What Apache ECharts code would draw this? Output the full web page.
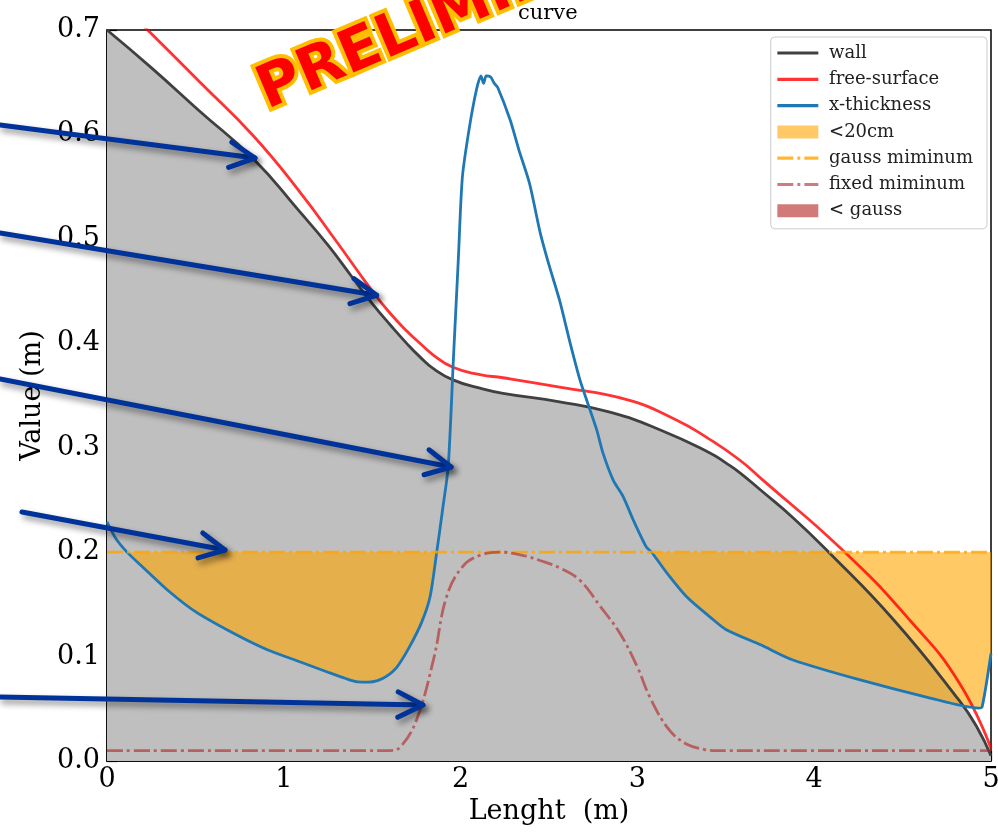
<!DOCTYPE html>
<html lang="en">
<head>
<meta charset="UTF-8">
<title>curve</title>
<style>
  html, body { margin: 0; padding: 0; background: #fff; }
  #chart { width: 998px; height: 835px; }
</style>
</head>
<body>
<div id="chart"></div>
<script src="https://cdn.jsdelivr.net/npm/echarts@6/dist/echarts.min.js"></script>
<script>
// wall
var wallX = [0, 0.25, 0.526, 0.826, 1.09, 1.25, 1.39, 1.505, 1.6, 1.7, 1.77, 1.844, 1.957, 2.11, 2.24, 2.56, 2.845, 3.13, 3.41, 3.5, 3.58, 3.7, 3.88, 4.07, 4.45, 4.82, 4.92, 5.0];
var wallY = [0.700, 0.664, 0.622, 0.577, 0.526, 0.494, 0.4625, 0.437, 0.418, 0.399, 0.387, 0.376, 0.365, 0.357, 0.352, 0.344, 0.334, 0.317, 0.295, 0.2855, 0.276, 0.259, 0.233, 0.202, 0.135, 0.058, 0.0326, 0.005];
// free-surface
var freeX = [0, 0.23, 0.526, 0.826, 1.09, 1.3, 1.505, 1.6, 1.7, 1.77, 1.844, 1.957, 2.11, 2.24, 2.56, 2.94, 3.22, 3.4, 3.58, 3.71, 4.16, 4.54, 4.82, 5.0];
var freeY = [0.739, 0.700, 0.650, 0.599, 0.545, 0.497, 0.449, 0.429, 0.411, 0.400, 0.389, 0.377, 0.370, 0.367, 0.358, 0.346, 0.3266, 0.309, 0.288, 0.269, 0.202, 0.135, 0.075, 0.012];
// x-thickness
var thickX = [0, 0.05, 0.113, 0.2, 0.34, 0.5, 0.713, 0.9, 1.09, 1.25, 1.35, 1.42, 1.48, 1.53, 1.58, 1.64, 1.71, 1.78, 1.827, 1.865, 1.90, 1.93, 1.959, 1.987, 2.01, 2.05, 2.09, 2.115, 2.13, 2.145, 2.17, 2.19, 2.21, 2.28, 2.33, 2.39, 2.45, 2.50, 2.56, 2.62, 2.675, 2.713, 2.77, 2.805, 2.863, 2.92, 2.976, 3.05, 3.08, 3.167, 3.28, 3.41, 3.5, 3.7, 3.88, 4.26, 4.64, 4.93, 4.95, 5.0];
var thickY = [0.229, 0.213, 0.200, 0.186, 0.164, 0.143, 0.1225, 0.107, 0.095, 0.085, 0.079, 0.0757, 0.0755, 0.077, 0.081, 0.090, 0.109, 0.133, 0.157, 0.200, 0.243, 0.282, 0.384, 0.480, 0.559, 0.607, 0.643, 0.656, 0.649, 0.656, 0.655, 0.649, 0.645, 0.614, 0.585, 0.553, 0.506, 0.475, 0.441, 0.400, 0.365, 0.3457, 0.317, 0.295, 0.269, 0.253, 0.231, 0.205, 0.200, 0.180, 0.157, 0.138, 0.126, 0.111, 0.0967, 0.0776, 0.061, 0.0507, 0.052, 0.103];
// gauss miminum
var gaussX = [0, 5];
var gaussY = [0.2, 0.2];
// fixed miminum
var fixedX = [0, 1.6, 1.66, 1.75, 1.85, 1.92, 2.01, 2.11, 2.22, 2.35, 2.45, 2.56, 2.675, 2.79, 2.9, 3.0, 3.07, 3.18, 3.28, 3.38, 3.45, 5.0];
var fixedY = [0.01, 0.01, 0.0135, 0.039, 0.0995, 0.157, 0.186, 0.197, 0.200, 0.197, 0.192, 0.185, 0.173, 0.148, 0.1225, 0.090, 0.0613, 0.0297, 0.016, 0.011, 0.010, 0.010];

// annotation arrows (data coords, tails sit left of the axis)
var arrowFrom = [[-0.605, 0.609], [-0.605, 0.5056], [-0.605, 0.3658], [-0.481, 0.2384], [-0.605, 0.0613]];
var arrowTo = [[0.837, 0.5774], [1.525, 0.446], [1.946, 0.2815], [0.667, 0.202], [1.787, 0.0536]];

var gaussLevel = 0.2;

function pairs(xs, ys) {
    return xs.map(function (x, i) { return [x, ys[i]]; });
}
// part of x-thickness under the gauss level
var thinY = thickY.map(function (v) { return Math.min(v, gaussLevel); });

var serif = 'DejaVu Serif';
var dashDot = [16, 4, 3, 4];
var noDot = { opacity: 0 };

var chart = echarts.init(document.getElementById('chart'));
var option = {
    animation: false,
    title: {
        text: 'curve',
        left: 518,
        top: 3,
        padding: 0,
        textStyle: { fontFamily: serif, fontSize: 21, fontWeight: 'normal', color: '#000' }
    },
    legend: {
        orient: 'vertical',
        right: 11,
        top: 37,
        padding: [7, 14, 9, 5],
        itemWidth: 41,
        itemHeight: 13,
        itemGap: 8.3,
        selectedMode: false,
        backgroundColor: 'rgba(255,255,255,0.8)',
        borderColor: '#ccc',
        borderWidth: 1,
        borderRadius: 4,
        formatter: ' {name}',
        lineStyle: { width: 3.2 },
        textStyle: { fontFamily: serif, fontSize: 18, lineHeight: 18, color: '#222' },
        data: [
            { name: 'wall', itemStyle: noDot },
            { name: 'free-surface', itemStyle: noDot },
            { name: 'x-thickness', itemStyle: noDot },
            { name: '<20cm', icon: 'rect' },
            { name: 'gauss miminum', itemStyle: noDot },
            { name: 'fixed miminum', itemStyle: noDot },
            { name: '< gauss', icon: 'rect' }
        ]
    },
    grid: {
        left: 107, right: 7, top: 30, bottom: 74,
        containLabel: false, outerBoundsMode: 'none',
        show: true, borderColor: '#000', borderWidth: 1.5
    },
    xAxis: {
        type: 'value', min: 0, max: 5, interval: 1,
        name: 'Lenght  (m)', nameLocation: 'middle', nameGap: 37,
        nameTextStyle: { fontFamily: serif, fontSize: 27, color: '#000' },
        axisLine: { lineStyle: { color: '#000', width: 1.5 } },
        axisTick: { inside: true, length: 10, lineStyle: { color: '#000', width: 1.2 } },
        axisLabel: { fontFamily: serif, fontSize: 27, color: '#000', margin: 5 },
        splitLine: { show: false }
    },
    yAxis: {
        type: 'value', min: 0, max: 0.7, interval: 0.1,
        name: 'Value (m)', nameLocation: 'middle', nameGap: 58,
        nameTextStyle: { fontFamily: serif, fontSize: 27, color: '#000' },
        axisLine: { lineStyle: { color: '#000', width: 1.5 } },
        axisTick: { inside: true, length: 10, lineStyle: { color: '#000', width: 1.2 } },
        axisLabel: {
            fontFamily: serif, fontSize: 27, color: '#000', margin: 7,
            formatter: function (v) { return v.toFixed(1); }
        },
        splitLine: { show: false }
    },
    series: [
        {
            name: 'wall', type: 'line', data: pairs(wallX, wallY),
            symbol: 'none', smooth: 0.5, silent: true, color: '#404040',
            lineStyle: { color: '#404040', width: 2.8 },
            areaStyle: { color: '#bfbfbf', opacity: 1, origin: 'start' }
        },
        {
            name: 'free-surface', type: 'line', data: pairs(freeX, freeY),
            symbol: 'none', smooth: 0.5, silent: true, color: 'rgba(255,0,0,0.8)',
            lineStyle: { width: 2.8 }
        },
        {
            name: '<20cm', type: 'line', data: pairs(thickX, thinY),
            symbol: 'none', smooth: 0.25, silent: true, color: 'rgba(255,165,0,0.6)',
            lineStyle: { width: 0 },
            areaStyle: { color: 'rgba(255,165,0,0.6)', opacity: 1, origin: gaussLevel }
        },
        {
            name: 'x-thickness', type: 'line', data: pairs(thickX, thickY),
            symbol: 'none', smooth: 0.25, silent: true, color: '#1f77b4',
            lineStyle: { width: 2.8 }
        },
        {
            name: 'gauss miminum', type: 'line', data: pairs(gaussX, gaussY),
            symbol: 'none', silent: true, color: 'rgba(255,165,0,0.8)',
            lineStyle: { width: 2.8, type: dashDot }
        },
        {
            name: 'fixed miminum', type: 'line', data: pairs(fixedX, fixedY),
            symbol: 'none', smooth: 0.4, silent: true, color: 'rgba(178,34,34,0.6)',
            lineStyle: { width: 2.8, type: dashDot }
        },
        {
            name: '< gauss', type: 'line', data: [],
            symbol: 'none', silent: true, color: 'rgba(178,34,34,0.6)'
        }
    ]
};
chart.setOption(option);

// arrows + stamp drawn on top
var arrowColor = '#003399';
var headLen = 28, headAng = 27 * Math.PI / 180;
var graphics = [];
for (var i = 0; i < arrowFrom.length; i++) {
    var a = chart.convertToPixel({ gridIndex: 0 }, arrowFrom[i]);
    var b = chart.convertToPixel({ gridIndex: 0 }, arrowTo[i]);
    var ang = Math.atan2(b[1] - a[1], b[0] - a[0]);
    var h1 = [b[0] - headLen * Math.cos(ang - headAng), b[1] - headLen * Math.sin(ang - headAng)];
    var h2 = [b[0] - headLen * Math.cos(ang + headAng), b[1] - headLen * Math.sin(ang + headAng)];
    var st = {
        stroke: arrowColor, lineWidth: 5, lineCap: 'round', lineJoin: 'round', fill: null,
        shadowBlur: 6, shadowColor: 'rgba(0,0,0,0.45)', shadowOffsetX: 3, shadowOffsetY: 4
    };
    graphics.push({ type: 'polyline', z: 100, silent: true, shape: { points: [a, b] }, style: st });
    graphics.push({ type: 'polyline', z: 100, silent: true, shape: { points: [h1, b, h2] }, style: st });
}
var rot = 23 * Math.PI / 180;
var stampFont = 'bold 59px "DejaVu Sans"';
var stampX = 261, stampY = 95;
// orange halo under, then red letters with a thin orange edge on top
graphics.push({
    type: 'text', z: 101, silent: true, x: stampX, y: stampY, rotation: rot,
    style: { text: 'PRELIMINARY', font: stampFont, fill: '#ffbf00', stroke: '#ffbf00', lineWidth: 8, lineJoin: 'round', align: 'left', verticalAlign: 'middle' }
});
graphics.push({
    type: 'text', z: 102, silent: true, x: stampX, y: stampY, rotation: rot,
    style: { text: 'PRELIMINARY', font: stampFont, fill: '#ff0000', stroke: '#ffbf00', lineWidth: 3, lineJoin: 'round', align: 'left', verticalAlign: 'middle' }
});
chart.setOption({ graphic: graphics });
</script>
</body>
</html>
